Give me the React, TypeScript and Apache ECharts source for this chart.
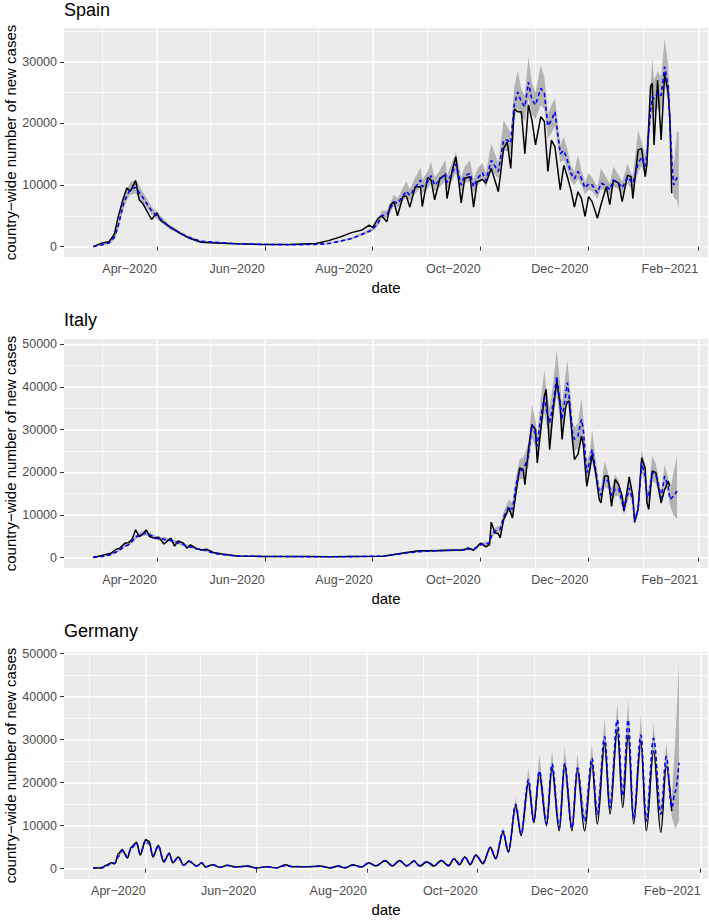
import React, { useEffect, useRef } from 'react';
import * as echarts from 'echarts';

// ---------- data ----------
const MONTHS = ['Jan', 'Feb', 'Mar', 'Apr', 'May', 'Jun', 'Jul', 'Aug', 'Sep', 'Oct', 'Nov', 'Dec'];
const xMajorTicks = ['2020-04-01', '2020-06-01', '2020-08-01', '2020-10-01', '2020-12-01', '2021-02-01'];
const xMinorTicks = ['2020-03-01', '2020-05-01', '2020-07-01', '2020-09-01', '2020-11-01', '2021-01-01'];

const yTicksSpain = [0, 10000, 20000, 30000];
const yMinorSpain = [5000, 15000, 25000, 35000];
const yTicksItaly = [0, 10000, 20000, 30000, 40000, 50000];
const yMinorItaly = [5000, 15000, 25000, 35000, 45000];
const yTicksGermany = [0, 10000, 20000, 30000, 40000, 50000];
const yMinorGermany = [5000, 15000, 25000, 35000, 45000];

const spainDates = [
  '2020-02-25', '2020-03-01', '2020-03-05', '2020-03-08', '2020-03-10', '2020-03-13', '2020-03-15', '2020-03-17', '2020-03-20', '2020-03-22',
  '2020-03-24', '2020-03-29', '2020-04-01', '2020-04-03', '2020-04-08', '2020-04-14', '2020-04-19', '2020-04-26', '2020-05-04', '2020-05-16',
  '2020-05-31', '2020-06-15', '2020-06-30', '2020-07-07', '2020-07-14', '2020-07-20', '2020-07-26', '2020-07-30', '2020-08-01', '2020-08-04',
  '2020-08-06', '2020-08-09', '2020-08-11', '2020-08-13', '2020-08-15', '2020-08-18', '2020-08-20', '2020-08-22', '2020-08-25', '2020-08-28',
  '2020-08-29', '2020-09-01', '2020-09-03', '2020-09-05', '2020-09-08', '2020-09-11', '2020-09-12', '2020-09-15', '2020-09-17', '2020-09-20',
  '2020-09-22', '2020-09-25', '2020-09-27', '2020-09-29', '2020-10-02', '2020-10-04', '2020-10-07', '2020-10-11', '2020-10-14', '2020-10-16',
  '2020-10-18', '2020-10-20', '2020-10-22', '2020-10-24', '2020-10-26', '2020-10-28', '2020-10-30', '2020-11-01', '2020-11-04', '2020-11-06',
  '2020-11-08', '2020-11-10', '2020-11-12', '2020-11-15', '2020-11-17', '2020-11-19', '2020-11-21', '2020-11-23', '2020-11-25', '2020-11-27',
  '2020-11-29', '2020-12-01', '2020-12-03', '2020-12-06', '2020-12-08', '2020-12-11', '2020-12-13', '2020-12-15', '2020-12-18', '2020-12-20',
  '2020-12-23', '2020-12-25', '2020-12-26', '2020-12-29', '2020-12-31', '2021-01-02', '2021-01-03', '2021-01-05', '2021-01-06', '2021-01-07',
  '2021-01-09', '2021-01-11', '2021-01-13', '2021-01-15', '2021-01-16', '2021-01-17', '2021-01-18', '2021-01-20', '2021-01-21',
];
const spainObserved = [
  0, 600, 800, 2000, 4700, 7800, 9500, 9000, 10700, 7600,
  7000, 4400, 5500, 4300, 3300, 2200, 1400, 700, 600, 450,
  350, 350, 500, 970, 1600, 2270, 2700, 3500, 3100, 4600,
  5000, 4050, 6750, 7300, 5000, 8100, 8200, 6400, 9700, 9700,
  6500, 11200, 10800, 7600, 11100, 11600, 7800, 12400, 14600, 7100,
  11100, 11350, 6400, 10500, 10900, 10300, 12700, 8900, 16000, 17000,
  12700, 22300, 21900, 21900, 15100, 23000, 20500, 16500, 21100, 20300,
  12200, 17300, 16200, 9200, 13200, 11350, 9200, 6400, 8900, 7800,
  4900, 8100, 7300, 4600, 6800, 9700, 6800, 10800, 10300, 7300,
  11600, 11350, 7800, 15700, 15900, 11350, 13400, 26000, 26500, 16500,
  27000, 17300, 28100, 25100, 20500, 8650, null, null, null,
];
const spainFitted = [
  0, 300, 600, 1500, 3200, 6800, 8300, 9300, 9600, 8800,
  8000, 5800, 5000, 4500, 3200, 2200, 1500, 850, 700, 450,
  350, 300, 350, 500, 900, 1300, 2000, 2500, 2800, 3800,
  5000, 5200, 6200, 7300, 7000, 8200, 9000, 8300, 9600, 10800,
  9700, 10500, 11500, 10000, 10800, 11900, 10400, 12000, 13400, 10000,
  11500, 11900, 9700, 11000, 12000, 10700, 14000, 12200, 17300, 17300,
  16800, 23000, 25100, 23500, 22700, 26700, 23800, 23000, 25700, 24900,
  19600, 20500, 21900, 15100, 15600, 14000, 11900, 11000, 12200, 11000,
  9500, 10200, 10000, 8700, 10300, 9900, 9200, 10800, 10300, 9500,
  11300, 10600, 10300, 13500, 14500, 13000, 15000, 22000, 24300, 24000,
  25000, 24500, 29200, 26000, 20000, 14000, 10000, 11200, 10800,
];
const spainLower = [
  0, 150, 400, 1200, 2700, 6000, 7500, 8400, 8600, 7900,
  7200, 5200, 4500, 4000, 2850, 1950, 1300, 720, 600, 380,
  290, 250, 290, 420, 780, 1150, 1800, 2250, 2500, 3400,
  4500, 4700, 5600, 6600, 6300, 7400, 8000, 7500, 8600, 9600,
  8700, 9400, 10300, 9000, 9700, 10600, 9300, 10800, 12000, 9000,
  10300, 10600, 8700, 9900, 10800, 9600, 12500, 11000, 15500, 15500,
  15000, 20700, 22500, 21000, 20400, 24000, 21400, 20700, 23000, 22300,
  17600, 18400, 19600, 13600, 14000, 12600, 10700, 9900, 11000, 9900,
  8500, 9200, 9000, 7800, 9300, 8900, 8300, 9700, 9300, 8500,
  10200, 9500, 9300, 12100, 13000, 11700, 13500, 19800, 21900, 21600,
  22500, 22000, 26300, 23400, 18000, 12000, 8000, 7500, 6200,
];
const spainUpper = [
  100, 450, 900, 2000, 3900, 7600, 9300, 10400, 10900, 9900,
  8900, 6500, 5600, 5000, 3600, 2500, 1700, 1000, 820, 540,
  420, 360, 420, 600, 1050, 1500, 2300, 2800, 3200, 4400,
  5800, 5900, 7100, 8400, 7800, 9500, 10600, 9300, 11200, 12800,
  10900, 12200, 13700, 11200, 12400, 14100, 11600, 13800, 15300, 11200,
  13000, 14000, 10900, 12500, 13600, 12000, 16700, 13600, 20500, 19500,
  18500, 26000, 28600, 25500, 24500, 30800, 26500, 25000, 29500, 27500,
  21500, 23000, 24000, 16500, 17800, 15800, 13200, 12200, 14900, 12300,
  10500, 11900, 11200, 9600, 12700, 11200, 10200, 13000, 11600, 10500,
  13500, 11900, 11400, 18900, 17000, 14800, 17500, 26000, 30500, 27000,
  28500, 27500, 33800, 29500, 23000, 17000, 13000, 18600, 18600,
];

const italyDates = [
  '2020-02-25', '2020-03-02', '2020-03-06', '2020-03-09', '2020-03-11', '2020-03-14', '2020-03-16', '2020-03-18', '2020-03-20', '2020-03-22',
  '2020-03-24', '2020-03-26', '2020-03-28', '2020-03-31', '2020-04-02', '2020-04-05', '2020-04-08', '2020-04-09', '2020-04-11', '2020-04-13',
  '2020-04-16', '2020-04-18', '2020-04-20', '2020-04-23', '2020-04-26', '2020-04-29', '2020-05-03', '2020-05-08', '2020-05-16', '2020-05-31',
  '2020-06-20', '2020-07-08', '2020-07-20', '2020-08-07', '2020-08-20', '2020-08-27', '2020-09-06', '2020-09-13', '2020-09-21', '2020-09-24',
  '2020-09-27', '2020-10-01', '2020-10-04', '2020-10-06', '2020-10-07', '2020-10-09', '2020-10-11', '2020-10-12', '2020-10-14', '2020-10-17',
  '2020-10-19', '2020-10-21', '2020-10-23', '2020-10-25', '2020-10-26', '2020-10-28', '2020-10-30', '2020-11-01', '2020-11-02', '2020-11-04',
  '2020-11-06', '2020-11-07', '2020-11-09', '2020-11-11', '2020-11-13', '2020-11-15', '2020-11-16', '2020-11-18', '2020-11-19', '2020-11-20',
  '2020-11-22', '2020-11-23', '2020-11-25', '2020-11-27', '2020-11-28', '2020-11-30', '2020-12-02', '2020-12-03', '2020-12-05', '2020-12-07',
  '2020-12-08', '2020-12-10', '2020-12-12', '2020-12-14', '2020-12-16', '2020-12-18', '2020-12-20', '2020-12-21', '2020-12-24', '2020-12-26',
  '2020-12-27', '2020-12-29', '2020-12-31', '2021-01-02', '2021-01-03', '2021-01-04', '2021-01-06', '2021-01-08', '2021-01-09', '2021-01-11',
  '2021-01-13', '2021-01-15', '2021-01-16', '2021-01-18', '2021-01-20',
];
const italyObserved = [
  0, 600, 1000, 1950, 2200, 3400, 3500, 4300, 6500, 4900,
  5500, 6500, 4900, 4500, 4800, 3200, 4300, 4500, 2700, 3900,
  3400, 2200, 3000, 2200, 1800, 1950, 1200, 850, 400, 250,
  250, 200, 250, 300, 1200, 1600, 1600, 1700, 1700, 2270,
  1700, 3400, 2500, 3050, 8300, 5800, 5600, 4600, 8900, 11650,
  9300, 15200, 21000, 20650, 17100, 25300, 31200, 30000, 22200, 30000,
  37800, 39400, 25300, 34700, 41400, 35500, 27700, 35100, 36500, 36700,
  27000, 23000, 24200, 28500, 26500, 16700, 21400, 24200, 19900, 13600,
  12800, 19100, 19100, 12000, 18300, 17100, 14400, 10900, 18900, 14400,
  8300, 11300, 23400, 21000, 12800, 11300, 20300, 19900, 17500, 12800,
  16000, 17900, 16700, null, null,
];
const italyFitted = [
  100, 300, 700, 1300, 1800, 2700, 3000, 3800, 4800, 5300,
  5600, 5700, 5300, 4700, 4400, 4300, 4100, 4000, 3700, 3500,
  3000, 2700, 2500, 2100, 1900, 1600, 1000, 700, 400, 250,
  230, 200, 220, 350, 1100, 1400, 1600, 1700, 1800, 2000,
  1900, 3050, 3200, 3400, 5000, 6200, 6500, 6600, 9500, 12000,
  11300, 17000, 20300, 20650, 21500, 23800, 31200, 29000, 26100, 33000,
  37500, 35000, 31600, 36000, 42500, 36000, 32400, 38000, 41000, 37800,
  29000, 27700, 28500, 32400, 30000, 19900, 23000, 25300, 20600, 15200,
  14600, 18500, 18000, 14500, 16000, 16200, 13000, 11300, 16300, 13600,
  8500, 11300, 22200, 19100, 14000, 14500, 19900, 19500, 17900, 14000,
  19100, 16700, 13600, 14400, 15600,
];
const italyLower = [
  0, 200, 550, 1100, 1550, 2400, 2650, 3400, 4300, 4800,
  5000, 5100, 4800, 4200, 4000, 3900, 3700, 3600, 3300, 3150,
  2700, 2400, 2250, 1900, 1700, 1450, 900, 620, 350, 210,
  190, 170, 180, 300, 950, 1200, 1400, 1450, 1550, 1750,
  1650, 2700, 2800, 3000, 4400, 5500, 5800, 5800, 8500, 10800,
  10100, 15300, 18300, 18500, 19300, 21400, 28000, 26000, 23500, 29700,
  33700, 31500, 28400, 32400, 38200, 32400, 29100, 34200, 36900, 34000,
  26100, 24900, 25600, 29100, 27000, 17900, 20700, 22700, 18500, 13700,
  13100, 16600, 16200, 13000, 14400, 14500, 11700, 10100, 14600, 12200,
  7600, 10100, 20000, 17200, 12600, 13000, 17900, 17500, 16100, 12600,
  17200, 15000, 12200, 10000, 8900,
];
const italyUpper = [
  200, 450, 900, 1600, 2100, 3100, 3400, 4250, 5300, 5900,
  6200, 6300, 5900, 5200, 4900, 4800, 4550, 4450, 4100, 3900,
  3350, 3000, 2800, 2350, 2100, 1800, 1120, 790, 460, 290,
  270, 240, 260, 420, 1300, 1650, 1900, 2000, 2150, 2400,
  2250, 3500, 3700, 3900, 5700, 7000, 7400, 7500, 10800, 13600,
  12800, 19000, 23000, 23500, 24300, 26800, 35900, 32000, 29000, 37000,
  44000, 40000, 35000, 41000, 48800, 40500, 36000, 43000, 46400, 42000,
  32000, 30500, 31500, 37500, 33000, 22000, 25500, 30000, 23000, 16800,
  16200, 22600, 20000, 16000, 19500, 18000, 14500, 12600, 19100, 15100,
  9500, 12600, 25300, 21500, 15600, 16200, 23800, 22000, 20000, 15600,
  21800, 18800, 15500, 20000, 23800,
];

const germanyDates = [
  '2020-03-03', '2020-03-08', '2020-03-10', '2020-03-13', '2020-03-15', '2020-03-17', '2020-03-19', '2020-03-22', '2020-03-24', '2020-03-27',
  '2020-03-29', '2020-04-01', '2020-04-03', '2020-04-05', '2020-04-08', '2020-04-11', '2020-04-14', '2020-04-16', '2020-04-19', '2020-04-22',
  '2020-04-25', '2020-04-29', '2020-05-02', '2020-05-04', '2020-05-08', '2020-05-12', '2020-05-16', '2020-05-21', '2020-05-27', '2020-06-01',
  '2020-06-07', '2020-06-12', '2020-06-17', '2020-06-21', '2020-06-29', '2020-07-06', '2020-07-12', '2020-07-16', '2020-07-20', '2020-07-24',
  '2020-07-29', '2020-08-02', '2020-08-06', '2020-08-11', '2020-08-15', '2020-08-19', '2020-08-23', '2020-08-27', '2020-08-30', '2020-09-03',
  '2020-09-07', '2020-09-11', '2020-09-15', '2020-09-18', '2020-09-21', '2020-09-24', '2020-09-27', '2020-09-30', '2020-10-04', '2020-10-08',
  '2020-10-11', '2020-10-15', '2020-10-18', '2020-10-22', '2020-10-25', '2020-10-29', '2020-11-01', '2020-11-04', '2020-11-08', '2020-11-11',
  '2020-11-15', '2020-11-18', '2020-11-22', '2020-11-25', '2020-11-29', '2020-12-03', '2020-12-06', '2020-12-10', '2020-12-13', '2020-12-17',
  '2020-12-20', '2020-12-23', '2020-12-26', '2020-12-30', '2021-01-02', '2021-01-06', '2021-01-10', '2021-01-13', '2021-01-16', '2021-01-18',
  '2021-01-20',
];
const germanyObserved = [
  150, 150, 770, 1400, 1150, 3450, 4450, 2460, 5000, 6100,
  3200, 6750, 6300, 2700, 5400, 1540, 3600, 1380, 2700, 770,
  1770, 600, 1380, 380, 920, 300, 770, 380, 600, 150,
  460, 150, 920, 460, 460, 610, 150, 610, 150, 920,
  380, 1380, 610, 1920, 610, 1920, 610, 1770, 610, 1540,
  610, 1920, 610, 2300, 920, 2690, 920, 3200, 1150, 5000,
  2300, 8450, 3840, 14600, 7700, 20000, 10750, 22300, 10000, 23400,
  8800, 24200, 8800, 23000, 8800, 24600, 10400, 29200, 12700, 32300,
  14200, 31100, 10400, 29600, 8800, 27300, 8450, 23800, 13400, null,
  null,
];
const germanyFitted = [
  100, 300, 600, 1200, 1300, 2800, 4200, 2800, 4700, 6000,
  3500, 6500, 5800, 3000, 5300, 1800, 3500, 1500, 2600, 900,
  1700, 650, 1300, 450, 900, 350, 750, 400, 600, 200,
  450, 200, 700, 500, 450, 550, 250, 600, 250, 800,
  450, 1300, 700, 1800, 700, 1850, 700, 1750, 700, 1600,
  750, 1900, 800, 2300, 1200, 2700, 1150, 3100, 1400, 4900,
  2500, 8800, 4000, 15000, 8000, 20700, 11000, 22700, 10500, 24400,
  9500, 24400, 9500, 23400, 11100, 25700, 12700, 30700, 14200, 34600,
  16900, 34600, 11500, 31100, 11100, 30300, 12700, 26100, 14200, 18000,
  24600,
];
const germanyLower = [
  50, 200, 450, 1000, 1100, 2500, 3800, 2500, 4300, 5500,
  3100, 5900, 5300, 2700, 4800, 1600, 3150, 1330, 2350, 800,
  1520, 570, 1150, 390, 800, 300, 660, 350, 530, 170,
  390, 170, 600, 430, 390, 480, 210, 520, 210, 700,
  390, 1150, 610, 1600, 610, 1650, 610, 1550, 610, 1420,
  650, 1700, 700, 2050, 1050, 2400, 1000, 2750, 1230, 4400,
  2200, 7900, 3550, 13500, 7100, 18600, 9900, 20400, 9400, 21900,
  8500, 21900, 8500, 21000, 9900, 23100, 11400, 27600, 12700, 31100,
  15200, 31100, 10300, 28000, 9900, 27200, 11400, 23500, 12000, 9200,
  11100,
];
const germanyUpper = [
  200, 400, 750, 1450, 1550, 3200, 4700, 3150, 5200, 6600,
  3900, 7100, 6400, 3400, 5800, 2050, 3900, 1700, 2900, 1020,
  1900, 740, 1450, 520, 1010, 410, 850, 460, 680, 240,
  520, 240, 800, 580, 520, 630, 300, 690, 300, 920,
  520, 1480, 800, 2050, 800, 2100, 800, 2000, 800, 1830,
  860, 2200, 920, 2650, 1380, 3100, 1320, 3600, 1620, 5500,
  2850, 9600, 4500, 16500, 8900, 23400, 12200, 26500, 11700, 27600,
  10600, 28400, 10600, 26700, 12400, 28800, 14200, 34900, 15800, 38400,
  18800, 39200, 12900, 35700, 12400, 33800, 14200, 29600, 16500, 30000,
  48000,
];

// ---------- styling / layout ----------
const FONT = '"Liberation Sans", Arial, Helvetica, sans-serif';
const PANEL_BG = '#EBEBEB';
const RIBBON = '#B3B3B3';

const toTs = (s: string) => new Date(s.length === 10 ? s + 'T00:00:00' : s).getTime();
const fmtMonth = (v: number) => {
  const d = new Date(v);
  return MONTHS[d.getMonth()] + '\u2212' + d.getFullYear();
};

type Panel = {
  name: string;
  dates: string[];
  obs: (number | null)[];
  fit: number[];
  lo: number[];
  hi: number[];
  xMin: string;
  xMax: string;
  yMin: number;
  yMax: number;
  yTicks: number[];
  yMinor: number[];
  smooth: number | boolean;
  grid: { left: number; top: number; width: number; height: number };
  titleTop: number;
};

const panels: Panel[] = [
  {
    name: 'Spain', dates: spainDates, obs: spainObserved, fit: spainFitted, lo: spainLower, hi: spainUpper,
    xMin: '2020-02-08T12:00:00', xMax: '2021-02-06T12:00:00', yMin: -1690, yMax: 35490,
    yTicks: yTicksSpain, yMinor: yMinorSpain, smooth: false,
    grid: { left: 64, top: 28, width: 644, height: 229 }, titleTop: 1,
  },
  {
    name: 'Italy', dates: italyDates, obs: italyObserved, fit: italyFitted, lo: italyLower, hi: italyUpper,
    xMin: '2020-02-08T12:00:00', xMax: '2021-02-06T12:00:00', yMin: -2440, yMax: 51240,
    yTicks: yTicksItaly, yMinor: yMinorItaly, smooth: false,
    grid: { left: 64, top: 339, width: 644, height: 229 }, titleTop: 311,
  },
  {
    name: 'Germany', dates: germanyDates, obs: germanyObserved, fit: germanyFitted, lo: germanyLower, hi: germanyUpper,
    xMin: '2020-02-16T00:00:00', xMax: '2021-02-05T00:00:00', yMin: -2400, yMax: 50400,
    yTicks: yTicksGermany, yMinor: yMinorGermany, smooth: 0.35,
    grid: { left: 64, top: 652, width: 644, height: 227 }, titleTop: 622,
  },
];

// ribbon drawn as one polygon through the axes' own scales
function ribbonRenderItem(params: any, api: any) {
  if (params.dataIndexInside !== 0) return null;
  const n = params.dataInsideLength;
  const upper: number[][] = [];
  const lower: number[][] = [];
  for (let k = 0; k < n; k++) {
    const x = api.value(0, k);
    upper.push(api.coord([x, api.value(2, k)]));
    lower.push(api.coord([x, api.value(1, k)]));
  }
  return {
    type: 'polygon',
    shape: { points: upper.concat(lower.reverse()) },
    style: { fill: RIBBON, stroke: null },
    silent: true,
  };
}

function buildOption() {
  const title: any[] = [];
  const grid: any[] = [];
  const xAxis: any[] = [];
  const yAxis: any[] = [];
  const series: any[] = [];
  const majorX = xMajorTicks.map(toTs);
  const minorX = xMinorTicks.map(toTs);

  panels.forEach((p, i) => {
    title.push({
      text: p.name, left: p.grid.left, top: p.titleTop, padding: 0,
      textStyle: { fontFamily: FONT, fontSize: 18, fontWeight: 'normal', color: '#000' },
    });
    grid.push({
      ...p.grid, show: true, backgroundColor: PANEL_BG, borderWidth: 0,
      containLabel: false, outerBoundsMode: 'none',
    });
    const xMin = toTs(p.xMin);
    const xMax = toTs(p.xMax);
    // major x axis (labels, ticks, major grid lines)
    xAxis.push({
      type: 'value', gridIndex: i, min: xMin, max: xMax, position: 'bottom',
      axisLine: { show: false },
      axisTick: { show: true, length: 4, lineStyle: { color: '#333333', width: 1 }, customValues: majorX },
      axisLabel: {
        customValues: majorX, formatter: (v: number) => fmtMonth(v), align: 'right',
        color: '#4D4D4D', fontSize: 12.5, fontFamily: FONT, margin: 5,
      },
      splitLine: { show: true, lineStyle: { color: '#FFFFFF', width: 1.5 } },
      name: 'date', nameLocation: 'middle', nameGap: 23, nameMoveOverlap: false,
      nameTextStyle: { fontFamily: FONT, fontSize: 15, color: '#000' },
    });
    // minor x axis (minor grid lines only)
    xAxis.push({
      type: 'value', gridIndex: i, min: xMin, max: xMax, position: 'top',
      axisLine: { show: false },
      axisTick: { show: false, customValues: minorX },
      axisLabel: { show: false, customValues: minorX },
      splitLine: { show: true, lineStyle: { color: '#FFFFFF', width: 0.7 } },
    });
    yAxis.push({
      type: 'value', gridIndex: i, min: p.yMin, max: p.yMax, position: 'left',
      axisLine: { show: false },
      axisTick: { show: true, length: 4, lineStyle: { color: '#333333', width: 1 }, customValues: p.yTicks },
      axisLabel: {
        customValues: p.yTicks, formatter: (v: number) => String(v),
        color: '#4D4D4D', fontSize: 12.5, fontFamily: FONT, margin: 7,
      },
      splitLine: { show: true, lineStyle: { color: '#FFFFFF', width: 1.5 } },
      name: 'country\u2212wide number of new cases', nameLocation: 'middle', nameGap: 46,
      nameMoveOverlap: false,
      nameTextStyle: { fontFamily: FONT, fontSize: 15, color: '#000' },
    });
    yAxis.push({
      type: 'value', gridIndex: i, min: p.yMin, max: p.yMax, position: 'right',
      axisLine: { show: false },
      axisTick: { show: false, customValues: p.yMinor },
      axisLabel: { show: false, customValues: p.yMinor },
      splitLine: { show: true, lineStyle: { color: '#FFFFFF', width: 0.7 } },
    });

    const ts = p.dates.map(toTs);
    const xi = i * 2;
    const yi = i * 2;
    series.push({
      type: 'custom', xAxisIndex: xi, yAxisIndex: yi, silent: true,
      renderItem: ribbonRenderItem,
      encode: { x: 0, y: [1, 2] },
      data: ts.map((t, k) => [t, p.lo[k], p.hi[k]]),
      z: 1,
    });
    series.push({
      type: 'line', xAxisIndex: xi, yAxisIndex: yi, symbol: 'none', silent: true, z: 2,
      smooth: p.smooth, smoothMonotone: 'x',
      lineStyle: { color: '#000000', width: 1.5 },
      data: ts.map((t, k) => [t, p.obs[k]]),
    });
    series.push({
      type: 'line', xAxisIndex: xi, yAxisIndex: yi, symbol: 'none', silent: true, z: 3,
      smooth: p.smooth, smoothMonotone: 'x',
      lineStyle: { color: '#0000FF', width: 1.6, type: [4, 3] },
      data: ts.map((t, k) => [t, p.fit[k]]),
    });
  });

  return { animation: false, backgroundColor: '#FFFFFF', title, grid, xAxis, yAxis, series };
}

export default function App() {
  const ref = useRef<HTMLDivElement>(null);
  useEffect(() => {
    if (!ref.current) return;
    const chart = echarts.init(ref.current, undefined, { renderer: 'svg' });
    chart.setOption(buildOption());
    return () => chart.dispose();
  }, []);
  return (
    <div
      ref={ref}
      style={{ position: 'absolute', left: 0, top: 0, width: 709, height: 920, background: '#FFFFFF' }}
    />
  );
}
